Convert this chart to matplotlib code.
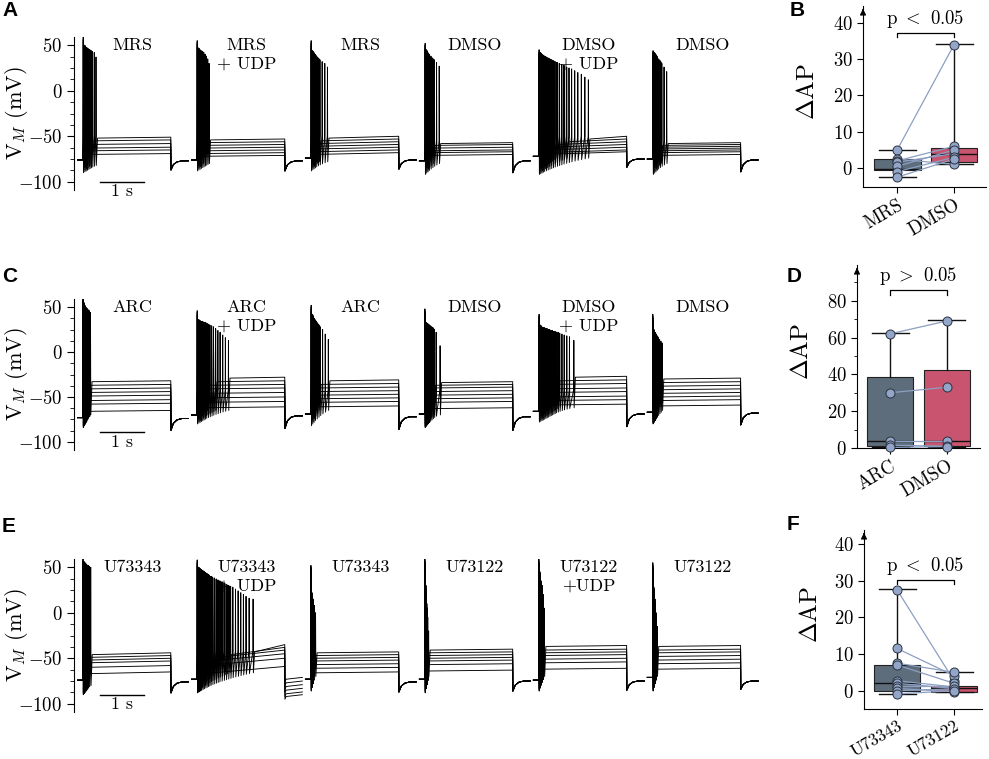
import numpy as np
import matplotlib.pyplot as plt
from matplotlib.ticker import AutoMinorLocator, MultipleLocator

plt.rcParams['font.family'] = 'cmr10'
plt.rcParams['mathtext.fontset'] = 'cm'
plt.rcParams['axes.formatter.use_mathtext'] = True

# ---------------- traces, row A ----------------
a_labels = ['MRS', 'MRS\n+ UDP', 'MRS', 'DMSO', 'DMSO\n+ UDP', 'DMSO']
a_plateau = [
    [-51, -54, -58, -62, -65, -69],
    [-53, -56, -59, -62, -65, -68, -71],
    [-50, -53, -56, -59, -62, -65, -68],
    [-57, -59, -62, -65, -67, -70],
    [-50, -53, -56, -59, -62, -65, -67],
    [-57, -59, -61, -63, -65, -67, -70],
]
a_drift = [1, 1, 2, 1, 3, 1]
a_base = [-76, -76, -74, -77, -72, -75]
a_dip = [-87, -88, -86, -90, -84, -89]
a_after = [-77, -77, -76, -77, -75, -76]
a_trough = [[-90, -82], [-88, -80], [-88, -78], [-92, -80], [-92, -74], [-92, -80]]
a_spike_t = [
    [0.01, 0.04, 0.07, 0.10, 0.13, 0.16, 0.19, 0.22, 0.26, 0.30],
    [0.01, 0.04, 0.07, 0.10, 0.13, 0.16, 0.19, 0.22, 0.25, 0.28],
    [0.01, 0.04, 0.07, 0.10, 0.13, 0.17, 0.21, 0.26, 0.32, 0.38],
    [0.01, 0.04, 0.07, 0.10, 0.14, 0.18, 0.22, 0.27, 0.33],
    [0.01, 0.04, 0.07, 0.10, 0.13, 0.17, 0.21, 0.25, 0.29, 0.33, 0.37, 0.42,
     0.47, 0.52, 0.57, 0.63, 0.69, 0.75, 0.82, 0.89, 0.97, 1.05, 1.13],
    [0.01, 0.04, 0.07, 0.10, 0.13, 0.17, 0.21, 0.26, 0.32],
]
a_spike_v = [
    [59, 50, 48, 47, 46, 45, 44, 43, 42, 37],
    [55, 47, 45, 44, 43, 42, 40, 38, 35, 30],
    [55, 44, 42, 40, 38, 36, 34, 32, 30, 26],
    [52, 45, 42, 40, 38, 36, 34, 31, 27],
    [45, 42, 40, 39, 38, 37, 36, 35, 34, 33, 32, 31, 30, 29, 28, 26, 25, 24,
     22, 20, 18, 15, 12],
    [44, 42, 40, 38, 35, 33, 30, 26, 21],
]

# ---------------- traces, row C ----------------
c_labels = ['ARC', 'ARC\n+ UDP', 'ARC', 'DMSO', 'DMSO\n+ UDP', 'DMSO']
c_plateau = [
    [-32, -36, -40, -44, -48, -53, -57, -65],
    [-28, -32, -36, -40, -45, -50, -55, -61],
    [-31, -35, -39, -43, -47, -51, -55, -60],
    [-33, -36, -39, -43, -47, -51, -55, -62],
    [-27, -31, -35, -40, -44, -49, -53, -58],
    [-29, -33, -37, -41, -45, -49, -53, -59],
]
c_drift = [1, 1, 1, 1, 1, 1]
c_base = [-73, -70, -69, -69, -66, -67]
c_dip = [-87, -85, -86, -87, -83, -81]
c_after = [-74, -71, -72, -72, -69, -68]
c_trough = [[-84, -70], [-80, -65], [-82, -65], [-84, -70], [-78, -62], [-80, -65]]
c_spike_t = [
    [0.005, 0.025, 0.045, 0.065, 0.085, 0.105, 0.125, 0.15, 0.175],
    [0.01, 0.04, 0.07, 0.10, 0.13, 0.16, 0.19, 0.22, 0.26, 0.30, 0.34, 0.38,
     0.43, 0.48, 0.53, 0.59, 0.65, 0.72],
    [0.01, 0.04, 0.07, 0.10, 0.14, 0.18, 0.22, 0.27, 0.33, 0.40],
    [0.005, 0.03, 0.055, 0.08, 0.105, 0.13, 0.16, 0.19, 0.22, 0.26, 0.35],
    [0.01, 0.04, 0.07, 0.10, 0.13, 0.16, 0.19, 0.22, 0.25, 0.28, 0.31, 0.34,
     0.37, 0.40, 0.44, 0.48, 0.53, 0.58, 0.64, 0.70, 0.80],
    [0.005, 0.03, 0.055, 0.08, 0.105, 0.13, 0.16, 0.19, 0.22],
]
c_spike_v = [
    [61, 55, 52, 50, 49, 48, 47, 46, 44],
    [46, 36, 35, 34, 34, 33, 33, 32, 31, 30, 29, 28, 26, 24, 22, 19, 16, 13],
    [52, 42, 38, 36, 33, 31, 28, 25, 20, 14],
    [48, 33, 32, 31, 30, 29, 28, 27, 25, 22, 7],
    [42, 30, 28, 27, 27, 26, 26, 25, 25, 24, 24, 23, 23, 22, 22, 21, 20, 19,
     18, 17, 13],
    [42, 25, 22, 20, 18, 16, 14, 12, 10],
]

# ---------------- traces, row E ----------------
e_labels = ['U73343', 'U73343\n+ UDP', 'U73343', 'U73122', 'U73122\n+UDP', 'U73122']
e_plateau = [
    [-44, -47, -50, -53, -58, -65],
    [-35, -38, -41, -45, -50, -59],
    [-43, -46, -49, -52, -56, -60, -65],
    [-40, -43, -46, -49, -52, -56, -63],
    [-36, -40, -43, -46, -50, -54, -61],
    [-36, -40, -43, -47, -51, -55, -61],
]
e_drift = [2, 8, 1, 1, 1, 1]
e_base = [-74, -73, -73, -73, -74, -71]
e_dip = [-88, -85, -87, -86, -85, -84]
e_after = [-76, -75, -76, -75, -75, -75]
e_post_udp = [-72, -76, -80, -84, -88, -91]   # U73343 + UDP, after the step
e_trough = [[-90, -80], [-88, -66], [-86, -70], [-88, -70], [-86, -70], [-86, -70]]
e_spike_t = [
    [0.005, 0.025, 0.045, 0.065, 0.085, 0.105, 0.125, 0.15, 0.18],
    [0.01, 0.035, 0.06, 0.085, 0.11, 0.14, 0.17, 0.20, 0.23, 0.26, 0.29, 0.32,
     0.36, 0.40, 0.44, 0.48, 0.52, 0.57, 0.62, 0.67, 0.72, 0.77, 0.82, 0.88,
     0.94, 1.00, 1.06, 1.12, 1.19, 1.28],
    [0.005, 0.03, 0.055, 0.08, 0.11],
    [0.005, 0.03, 0.05, 0.07, 0.09],
    [0.005, 0.03, 0.055, 0.08, 0.105, 0.13],
    [0.005, 0.03, 0.055, 0.08, 0.105],
]
e_spike_v = [
    [59, 56, 55, 54, 53, 52, 52, 51, 50],
    [58, 50, 49, 48, 47, 46, 45, 44, 43, 42, 41, 40, 39, 38, 37, 36, 35, 34,
     33, 31, 30, 29, 28, 26, 24, 22, 20, 18, 16, 15],
    [52, 22, 15, 8, 0],
    [59, 30, 10, -5, -20],
    [59, 45, 35, 30, 20, 5],
    [55, 28, 15, 0, -15],
]

# ---------------- summary boxes (whislo, q1, med, q3, whishi) ----------------
b_names = ['MRS', 'DMSO']
b_box = [[-2.5, -0.6, -0.25, 2.45, 5.0], [1.1, 1.55, 3.8, 5.45, 34.1]]
b_left = [5.0, 2.5, 2.0, 1.6, 0.5, -1.0, -2.5]
b_right = [34.0, 1.0, 6.0, 4.0, 5.0, 3.0, 2.5]

d_names = ['ARC', 'DMSO']
d_box = [[0.5, 0.9, 3.6, 38.5, 62.4], [0.5, 0.9, 4.0, 42.4, 69.6]]
d_left = [62.0, 30.0, 4.0, 1.5, 0.3]
d_right = [69.0, 33.0, 4.0, 1.0, 0.8]

f_names = ['U73343', 'U73122']
f_box = [[-1.0, 0.0, 2.0, 7.0, 27.7], [-0.45, -0.3, 0.6, 1.36, 5.0]]
f_left = [27.5, 11.5, 7.5, 7.0, 2.7, 2.0, 1.3, 0.6, 0.0, -0.9]
f_right = [2.7, 4.1, 5.0, 2.0, 1.0, 0.6, 1.3, -0.3, 0.5, 0.0]

box_colors = ['#5e6d7b', '#c8546f']
pt_color = '#93a5c8'
line_color = '#8c9fc2'

PERIOD = 2.59
FIRST = 0.2


def sweep(t0, base, plat, drift, st, sv, trough, dip, after, post=None):
    ts = [t0 - 0.12, t0]
    vs = [base, base]
    p0 = plat - drift
    pre = min(p0 + 3, -42)
    n = len(st)
    for j in range(n):
        tr = trough[0] + (trough[1] - trough[0]) * j / max(n - 1, 1)
        ts += [t0 + st[j] - 0.004, t0 + st[j], t0 + st[j] + 0.007]
        vs += [pre, sv[j], tr]
    end_burst = st[-1] + 0.035 if n else 0.03
    ts.append(t0 + end_burst)
    vs.append(p0)
    ts += [t0 + 2.0]
    vs += [plat]
    if post is None:
        ts += [t0 + 2.004, t0 + 2.06, t0 + 2.14, t0 + 2.25, t0 + 2.4]
        vs += [dip, dip + 0.6 * (after - dip), dip + 0.88 * (after - dip), after, after]
    else:
        ts += [t0 + 2.004, t0 + 2.03, t0 + 2.4]
        vs += [post - 4, post - 1, post + 1]
    return ts, vs


def trace_row(ax, labels, plateau, drift, base, dip, after, trough, spike_t, spike_v,
              bar_y, post_panel=None, post=None):
    for k in range(6):
        t0 = FIRST + PERIOD * k
        levels = plateau[k]
        last = spike_t[k][-1]
        for i, lv in enumerate(levels):
            # weaker sweeps fire slower and stop earlier
            stretch = 1 + 0.12 * i
            window = max(last * 0.6 ** i, spike_t[k][0] * stretch)
            st = [t * stretch for t in spike_t[k] if t * stretch <= window + 0.005]
            sv = list(np.interp(st, spike_t[k], spike_v[k]))
            if sv:
                sv[0] = spike_v[k][0] - 2 * i
            ps = post[i] if (post_panel == k) else None
            tr = [trough[k][0] + 1.5 * i, trough[k][1]]
            ts, vs = sweep(t0, base[k], lv, drift[k], st, sv, tr, dip[k], after[k], ps)
            ax.plot(ts, vs, color='black', lw=0.65, zorder=2)
        parts = labels[k].split('\n')
        ax.text(t0 + 1.13, 50, parts[0], ha='center', va='center', fontsize=13)
        if len(parts) > 1:
            ax.text(t0 + 1.13, 29, parts[1], ha='center', va='center', fontsize=13)
    ax.plot([0.6, 1.6], [bar_y, bar_y], color='black', lw=1)
    ax.text(1.1, bar_y - 10.5, '1 s', ha='center', va='center', fontsize=13)
    ax.set_xlim(0, 16)
    ax.set_ylim(-109, 59)
    for s in ['top', 'right', 'bottom']:
        ax.spines[s].set_visible(False)
    ax.set_xticks([])
    ax.set_yticks([-100, -50, 0, 50])
    ax.yaxis.set_minor_locator(AutoMinorLocator(4))
    ax.tick_params(axis='y', which='major', labelsize=13.5, length=5, width=0.8)
    ax.tick_params(axis='y', which='minor', length=3, width=0.6)
    ax.set_ylabel(r'V$_M$ (mV)', fontsize=16)
    ax.yaxis.set_label_coords(-0.063, 0.5)


def box_panel(ax, names, box, left, right, ylim, yticks, ptext, pbar, xlim, minor=None,
              xlab_size=13.5):
    stats = []
    for b in box:
        stats.append(dict(whislo=b[0], q1=b[1], med=b[2], q3=b[3], whishi=b[4]))
    bp = ax.bxp(stats, positions=[1, 2], widths=0.82, capwidths=0.65, patch_artist=True,
                showfliers=False,
                boxprops=dict(edgecolor='#222222', linewidth=0.8),
                medianprops=dict(color='#111111', linewidth=1.0),
                whiskerprops=dict(color='#111111', linewidth=1.0),
                capprops=dict(color='#111111', linewidth=1.0))
    for patch, c in zip(bp['boxes'], box_colors):
        patch.set_facecolor(c)
    for a, b in zip(left, right):
        ax.plot([1, 2], [a, b], color=line_color, lw=0.9, zorder=3)
    ax.plot([1] * len(left), left, 'o', ms=6.5, mfc=pt_color, mec='#2b3340', mew=0.7,
            zorder=4, clip_on=False)
    ax.plot([2] * len(right), right, 'o', ms=6.5, mfc=pt_color, mec='#2b3340', mew=0.7,
            zorder=4, clip_on=False)
    tick = (ylim[1] - ylim[0]) * 0.025
    ax.plot([1, 1, 2, 2], [pbar - tick, pbar, pbar, pbar - tick], color='black', lw=0.9)
    ax.text(1.5, pbar + tick * 0.6, ptext, ha='center', va='bottom', fontsize=13.5)
    ax.set_xlim(*xlim)
    ax.set_ylim(*ylim)
    ax.set_yticks(yticks)
    if minor:
        ax.yaxis.set_minor_locator(MultipleLocator(minor))
    ax.set_xticks([1, 2])
    ax.set_xticklabels(names, rotation=30, ha='right', rotation_mode='anchor',
                       fontsize=xlab_size)
    ax.tick_params(axis='y', labelsize=13.5, length=4, width=0.8)
    ax.tick_params(axis='x', length=4, width=0.8, pad=2.5)
    ax.tick_params(axis='y', which='minor', length=2.5, width=0.6)
    for s in ['top', 'right']:
        ax.spines[s].set_visible(False)
    ax.annotate('', xy=(0, 1.0), xytext=(0, 0.96), xycoords='axes fraction',
                arrowprops=dict(arrowstyle='-|>', color='black', lw=0.8, mutation_scale=9))
    ax.set_ylabel(r'$\Delta$AP', fontsize=18)
    ax.yaxis.set_label_coords(-0.36, 0.53)


fig = plt.figure(figsize=(9.89, 7.59), dpi=100)

W, H = 989.0, 759.0
ax_a = fig.add_axes([74 / W, 1 - 190 / H, 704 / W, 153 / H])
ax_c = fig.add_axes([74 / W, 1 - 450 / H, 704 / W, 151 / H])
ax_e = fig.add_axes([74 / W, 1 - 712 / H, 704 / W, 153 / H])

trace_row(ax_a, a_labels, a_plateau, a_drift, a_base, a_dip, a_after, a_trough,
          a_spike_t, a_spike_v, -100)
trace_row(ax_c, c_labels, c_plateau, c_drift, c_base, c_dip, c_after, c_trough,
          c_spike_t, c_spike_v, -89.5)
trace_row(ax_e, e_labels, e_plateau, e_drift, e_base, e_dip, e_after, e_trough,
          e_spike_t, e_spike_v, -90, post_panel=1, post=e_post_udp)

ax_b = fig.add_axes([863 / W, 1 - 187 / H, 123 / W, 181 / H])
ax_d = fig.add_axes([857 / W, 1 - 448 / H, 123 / W, 183 / H])
ax_f = fig.add_axes([864 / W, 1 - 709 / H, 118 / W, 179 / H])

box_panel(ax_b, b_names, b_box, b_left, b_right, (-5.2, 44.6), [0, 10, 20, 30, 40],
          r'p $<$ 0.05', 37.2, (0.40, 2.56))
box_panel(ax_d, d_names, d_box, d_left, d_right, (0, 99.4), [0, 20, 40, 60, 80],
          r'p $>$ 0.05', 85.8, (0.42, 2.58), minor=10)
box_panel(ax_f, f_names, f_box, f_left, f_right, (-5.0, 43.8), [0, 10, 20, 30, 40],
          r'p $<$ 0.05', 30.2, (0.42, 2.49), xlab_size=12.5)

for lab, x, y in [('A', 2, 11), ('B', 790, 10), ('C', 2, 277), ('D', 787, 276),
                  ('E', 2, 526), ('F', 787, 524)]:
    fig.text(x / W, 1 - y / H, lab, fontsize=15, fontweight='bold',
             family='Liberation Sans', va='center', ha='left')

fig.savefig('out.png', dpi=100)
